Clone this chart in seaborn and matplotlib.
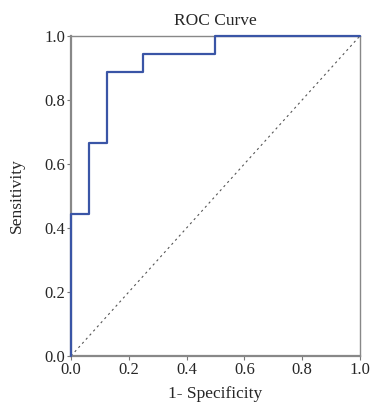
import numpy as np
import matplotlib
matplotlib.use("Agg")
import matplotlib.pyplot as plt
import pandas as pd
import seaborn as sns

# ROC points (1 - specificity, sensitivity)
fpr = [0.0, 0.0, 0.0625, 0.0625, 0.125, 0.125, 0.25, 0.25, 0.5, 0.5, 1.0]
tpr = [0.0, 0.444, 0.444, 0.667, 0.667, 0.889, 0.889, 0.944, 0.944, 1.0, 1.0]
ref_line = [0.0, 1.0]
ticks = [0.0, 0.2, 0.4, 0.6, 0.8, 1.0]

sns.set_style("white")
plt.rcParams['font.family'] = ['Liberation Serif', 'DejaVu Serif']

data = pd.DataFrame({'fpr': fpr, 'tpr': tpr})
diag = pd.DataFrame({'x': ref_line, 'y': ref_line})

fig = plt.figure(figsize=(3.71, 4.03), dpi=100)
ax = fig.add_axes([0.1914, 0.1166, 0.7786, 0.7941])

sns.lineplot(data=diag, x='x', y='y', ax=ax, color='#555555',
             linestyle=(0, (2, 3)), linewidth=0.8)
sns.lineplot(data=data, x='fpr', y='tpr', sort=False, estimator=None, ax=ax,
             color='#3a55a6', linewidth=1.6, clip_on=False, zorder=5)

ax.set_xlim(0, 1)
ax.set_ylim(0, 1)
ax.set_xticks(ticks)
ax.set_yticks(ticks)
ax.set_xticklabels([f"{t:.1f}" for t in ticks], fontsize=12)
ax.set_yticklabels([f"{t:.1f}" for t in ticks], fontsize=12)
ax.tick_params(axis='both', length=3, width=0.8, color='#777777', pad=1, direction='out')
ax.tick_params(bottom=True, left=True)
for s in ax.spines.values():
    s.set_color('#888888')
    s.set_linewidth(1.0)
for s in ['left', 'bottom']:
    ax.spines[s].set_linewidth(1.6)

ax.set_xlabel('1- Specificity', fontsize=12.5, labelpad=6)
ax.set_ylabel('Sensitivity', fontsize=12.5, labelpad=14)
ax.set_title('ROC Curve', fontsize=12.5, pad=8)

fig.savefig('out.png', dpi=100)
